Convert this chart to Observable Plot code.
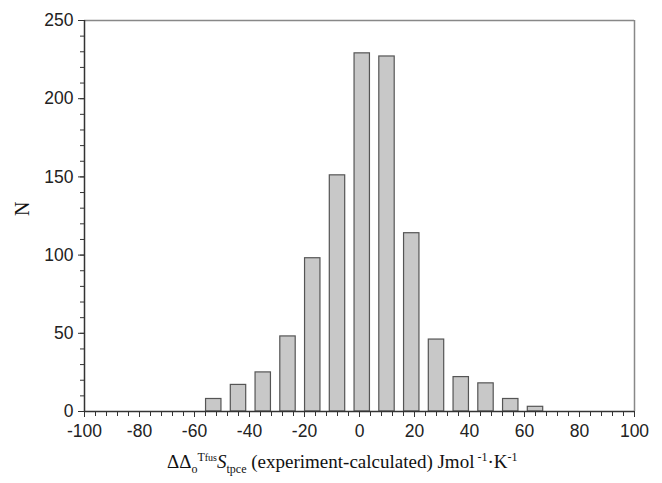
<!DOCTYPE html>
<html>
<head>
<meta charset="utf-8">
<script src="https://cdn.jsdelivr.net/npm/d3@7"></script>
<script src="https://cdn.jsdelivr.net/npm/@observablehq/plot@0.6"></script>
<style>
  html, body { margin: 0; padding: 0; background: #fff; }
  #wrap { position: relative; width: 662px; height: 483px; }
  #cap { position: absolute; left: 167px; top: 451px; font-family: "Liberation Serif", "Times New Roman", serif; font-size: 19px; color: #111; white-space: nowrap; line-height: 1; }
  #cap sub, #cap sup { font-size: 12px; }
  #cap .s { font-size: 10px; }
</style>
</head>
<body>
<div id="wrap"><div id="chart"></div>
<div id="cap">ΔΔ<sub>o</sub><sup>T<span class="s">fus</span></sup><i>S</i><sub>tpce</sub> (experiment-calculated) Jmol<sup> -1</sup>·K<sup>-1</sup></div>
</div>
<script>
// Bin centres of the histogram and counts
const binCenters = [-53, -44, -35, -26, -17, -8, 1, 10, 19, 28, 37, 46, 55, 64];
const counts     = [8, 17, 25, 48, 98, 151, 229, 227, 114, 46, 22, 18, 8, 3];
const xTickLabels = [-100, -80, -60, -40, -20, 0, 20, 40, 60, 80, 100];
const yTickLabels = [0, 50, 100, 150, 200, 250];

const data = binCenters.map((c, i) => ({c, n: counts[i]}));
const hw = 2.8;
const xMinor = d3.range(-100, 101, 4);
const yMinor = d3.range(0, 251, 10);

const chart = Plot.plot({
  width: 662,
  height: 448,
  marginLeft: 84,
  marginRight: 28,
  marginTop: 20,
  marginBottom: 37,
  style: {fontFamily: "'Liberation Sans', Arial, sans-serif", fontSize: "17px", color: "#222", background: "#fff"},
  x: {domain: [-100, 100]},
  y: {domain: [0, 250]},
  marks: [
    Plot.rect(data, {x1: d => d.c - hw, x2: d => d.c + hw, y1: 0, y2: "n", fill: "#c8c8c8", stroke: "#555", strokeWidth: 1.2}),
    Plot.ruleY([250], {stroke: "#888", strokeWidth: 1.5}),
    Plot.ruleX([100], {stroke: "#888", strokeWidth: 1.5}),
    Plot.axisX(xMinor, {tickSize: 5, tickFormat: () => "", stroke: "#333", label: null}),
    Plot.axisX(xTickLabels, {tickSize: 6, tickPadding: 7, stroke: "#333", label: null, fontSize: 17.5, tickFormat: d => String(d)}),
    Plot.axisY(yMinor, {tickSize: 4, tickFormat: () => "", stroke: "#333", label: null}),
    Plot.axisY(yTickLabels, {tickSize: 6, tickPadding: 5, stroke: "#333", label: null, fontSize: 17.5, tickFormat: d => String(d)}),
    Plot.ruleX([-100], {stroke: "#333", strokeWidth: 1.5}),
    Plot.ruleY([0], {stroke: "#333", strokeWidth: 1.5}),
    Plot.text(["N"], {frameAnchor: "left", dx: -62, rotate: -90, fontFamily: "'Liberation Serif', 'Times New Roman', serif", fontSize: 20, fill: "#111"})
  ]
});
document.getElementById("chart").appendChild(chart);
</script>
</body>
</html>
